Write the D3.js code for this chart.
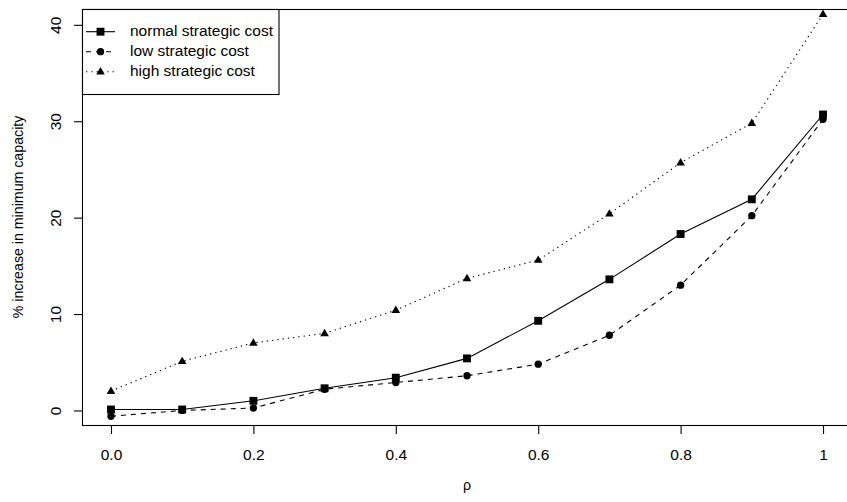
<!DOCTYPE html>
<html>
<head>
<meta charset="utf-8">
<style>
  body { margin: 0; background: #fff; }
  svg text { font-family: "Liberation Sans", Arial, Helvetica, sans-serif; fill: #000; }
</style>
</head>
<body>
<script src="https://cdn.jsdelivr.net/npm/d3@7"></script>
<script>
// data
var rho = [0, 0.1, 0.2, 0.3, 0.4, 0.5, 0.6, 0.7, 0.8, 0.9, 1];
var normalCost = [0.1, 0.1, 1.0, 2.3, 3.4, 5.4, 9.3, 13.6, 18.3, 21.9, 30.7];
var lowCost    = [-0.6, 0.0, 0.25, 2.2, 2.9, 3.6, 4.8, 7.8, 13.0, 20.2, 30.2];
var highCost   = [2.0, 5.1, 7.0, 8.0, 10.4, 13.7, 15.6, 20.4, 25.7, 29.8, 41.1];
var xTicks = [0, 0.2, 0.4, 0.6, 0.8, 1];
var xTickLabels = ["0.0", "0.2", "0.4", "0.6", "0.8", "1"];
var yTicks = [0, 10, 20, 30, 40];
var seriesNames = ["normal strategic cost", "low strategic cost", "high strategic cost"];

var width = 847, height = 502;
var fs = 15.5;

var svg = d3.select("body").append("svg")
    .attr("width", width).attr("height", height);

var x = d3.scaleLinear().domain([-0.04, 1.04]).range([82.5, 851.5]);
var y = d3.scaleLinear().domain([-1.56, 41.59]).range([425.5, 9.5]);

var series = [
    { name: seriesNames[0], values: normalCost, dash: null, shape: "square" },
    { name: seriesNames[1], values: lowCost, dash: "5,5", shape: "circle" },
    { name: seriesNames[2], values: highCost, dash: "1.3,4", shape: "triangle" }
];

function symbol(shape) {
    if (shape == "square") return d3.symbol().type(d3.symbolSquare).size(62)();
    if (shape == "circle") return d3.symbol().type(d3.symbolCircle).size(42)();
    return "M0,-4.6L4.3,2.8L-4.3,2.8Z";
}

// lines
var line = d3.line().x(function(d){ return x(d[0]); }).y(function(d){ return y(d[1]); });
series.forEach(function(s) {
    svg.append("path")
        .datum(rho.map(function(r, i){ return [r, s.values[i]]; }))
        .attr("d", line)
        .attr("fill", "none")
        .attr("stroke", "#000")
        .attr("stroke-width", 1.1)
        .attr("stroke-dasharray", s.dash);
});

// points
series.forEach(function(s) {
    svg.selectAll(null).data(s.values).enter().append("path")
        .attr("d", symbol(s.shape))
        .attr("transform", function(d, i){ return "translate(" + x(rho[i]) + "," + y(d) + ")"; })
        .attr("fill", "#000");
});

// box
svg.append("rect")
    .attr("x", 82.5).attr("y", 9.5)
    .attr("width", 780).attr("height", 416)
    .attr("fill", "none").attr("stroke", "#000").attr("stroke-width", 1.1);

// x axis
var xAxis = svg.append("g")
    .attr("transform", "translate(0,425.5)")
    .call(d3.axisBottom(x).tickValues(xTicks).tickSize(8.5)
        .tickFormat(function(d, i){ return xTickLabels[i]; }));
xAxis.select(".domain").remove();
xAxis.selectAll("line").attr("stroke", "#000").attr("stroke-width", 1.1);
xAxis.selectAll("text")
    .attr("y", 34.5).attr("dy", null)
    .style("font-size", fs + "px")
    .style("font-family", "'Liberation Sans', Arial, sans-serif")
    .attr("fill", "#000");

// y axis
var yAxis = svg.append("g")
    .attr("transform", "translate(82.5,0)")
    .call(d3.axisLeft(y).tickValues(yTicks).tickSize(8.5));
yAxis.select(".domain").remove();
yAxis.selectAll("line").attr("stroke", "#000").attr("stroke-width", 1.1);
yAxis.selectAll("text")
    .attr("x", null).attr("dy", null)
    .attr("text-anchor", "middle")
    .attr("transform", "translate(-21.5,0) rotate(-90)")
    .style("font-size", fs + "px")
    .style("font-family", "'Liberation Sans', Arial, sans-serif")
    .attr("fill", "#000");

// axis titles
svg.append("text")
    .attr("x", 467).attr("y", 490)
    .attr("text-anchor", "middle")
    .style("font-size", "14.2px")
    .text("ρ");
svg.append("text")
    .attr("transform", "translate(22.5,217) rotate(-90)")
    .attr("text-anchor", "middle")
    .style("font-size", "14.2px")
    .text("% increase in minimum capacity");

// legend
var legend = svg.append("g");
legend.append("rect")
    .attr("x", 82.5).attr("y", 9.5)
    .attr("width", 196.5).attr("height", 85)
    .attr("fill", "#fff").attr("stroke", "#000").attr("stroke-width", 1.1);
series.forEach(function(s, i) {
    var cy = 31.7 + i * 20;
    legend.append("line")
        .attr("x1", 86).attr("x2", 115)
        .attr("y1", cy).attr("y2", cy)
        .attr("stroke", "#000").attr("stroke-width", 1.1)
        .attr("stroke-dasharray", s.dash);
    legend.append("path")
        .attr("d", symbol(s.shape))
        .attr("transform", "translate(100.5," + cy + ")")
        .attr("fill", "#000");
    legend.append("text")
        .attr("x", 130).attr("y", cy + 4.5)
        .style("font-size", fs + "px")
        .text(s.name);
});
</script>
</body>
</html>
